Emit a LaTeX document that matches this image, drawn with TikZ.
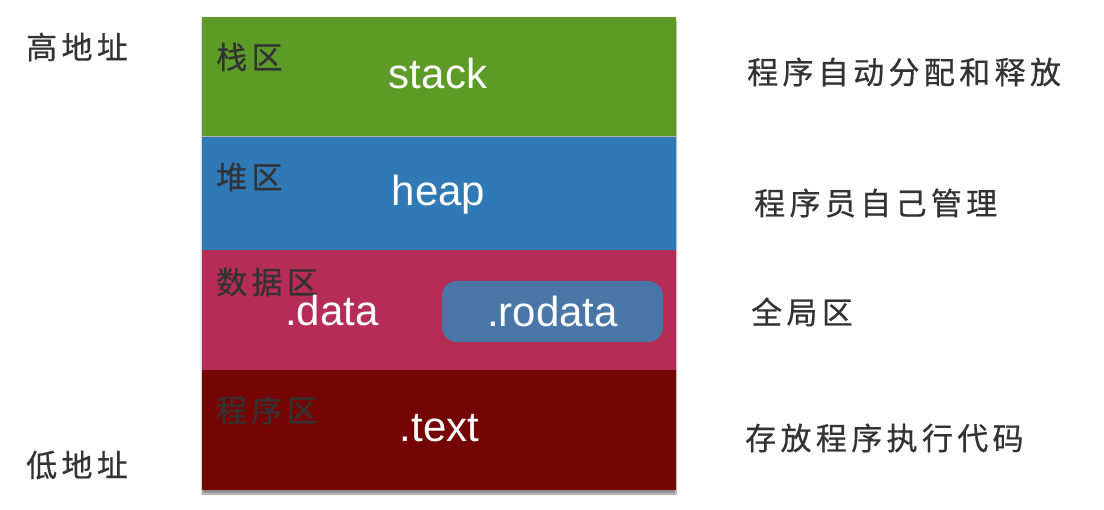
\documentclass[tikz,border=0pt]{standalone}
\usepackage{fontspec}
\usetikzlibrary{shadows.blur}
\newfontfamily\cjk[LetterSpace=14,FakeBold=0.6]{Noto Sans CJK SC}
\newfontfamily\latn{Liberation Sans}

\definecolor{stackgreen}{HTML}{5C9B25}
\definecolor{heapblue}{HTML}{2F79B6}
\definecolor{datared}{HTML}{B52C56}
\definecolor{textred}{HTML}{750505}
\definecolor{roblue}{HTML}{4A76A7}
\definecolor{ink}{HTML}{333333}

\tikzset{
  zh/.style={inner sep=0pt, anchor=west, text=ink, font=\cjk\fontsize{31}{33}\selectfont},
  seg/.style={inner sep=0pt, anchor=base, text=white, font=\latn\fontsize{42}{44}\selectfont},
  rodatabox/.style={fill=roblue, rounded corners=15pt, minimum width=221pt, minimum height=61pt,
    inner sep=0pt, text=white, font=\latn\fontsize{42}{44}\selectfont}
}

\begin{document}
\begin{tikzpicture}[x=1pt,y=-1pt]
    \useasboundingbox (0,0) rectangle (1104,510);

    % Memory block with shadow
    \fill[white, blur shadow={shadow xshift=0pt, shadow yshift=-4pt, shadow blur steps=6, shadow opacity=45}]
        (202,17) rectangle (676,490);

    % Segments (top to bottom)
    \fill[stackgreen] (202,17) rectangle (676,136);
    \fill[heapblue] (202,136) rectangle (676,250);
    \fill[datared] (202,250) rectangle (676,370);
    \fill[textred] (202,370) rectangle (676,490);
    \draw[gray!60, line width=0.8pt] (202,136) -- (676,136);

    % Segment names
    \node[zh] (stackzh) at (216,57) {栈区};
    \node[zh] (heapzh) at (216,177) {堆区};
    \node[zh] (datazh) at (216,282) {数据区};
    \node[zh] (textzh) at (216,410) {程序区};

    \node[seg] (stack) at (438,89) {stack};
    \node[seg] (heap) at (438.5,206) {heap};
    \node[seg] (data) at (332,326) {.data};
    \node[rodatabox] (rodata) at (552.5,311.5) {.rodata};
    \node[seg] (text) at (439.5,442) {.text};

    % Addresses
    \node[zh] (high) at (26,47) {高地址};
    \node[zh] (low) at (26,465) {低地址};

    % Notes on the right
    \node[zh] (stacknote) at (747,72) {程序自动分配和释放};
    \node[zh] (heapnote) at (754,203) {程序员自己管理};
    \node[zh] (datanote) at (751,312) {全局区};
    \node[zh] (textnote) at (745,438) {存放程序执行代码};
\end{tikzpicture}
\end{document}
